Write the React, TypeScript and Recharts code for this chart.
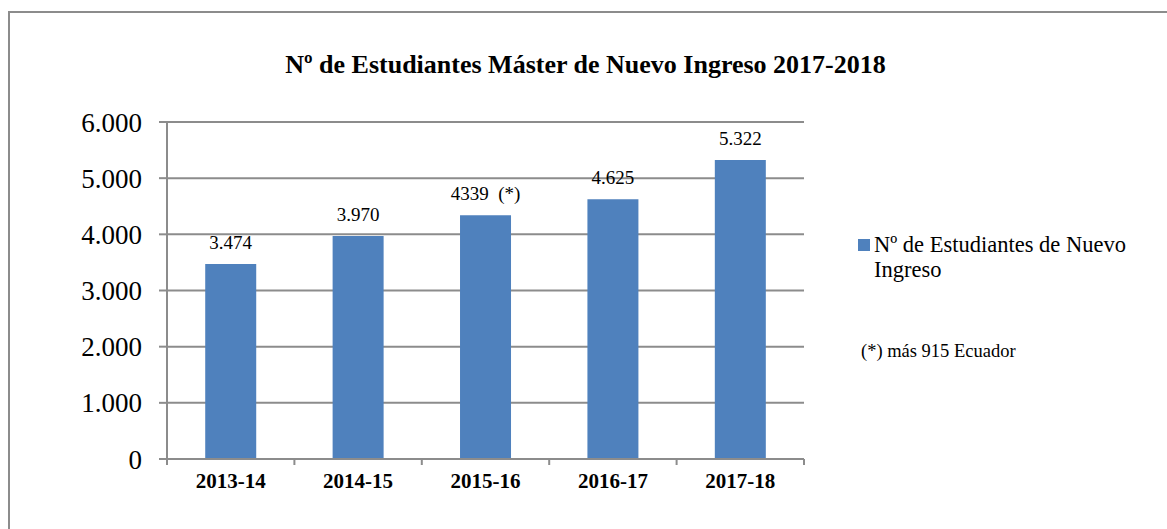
import { BarChart, Bar, XAxis, YAxis, CartesianGrid, LabelList } from 'recharts';

const categories = ['2013-14', '2014-15', '2015-16', '2016-17', '2017-18'];
const students = [3474, 3970, 4339, 4625, 5322];
const valueLabels = ['3.474', '3.970', '4339\u00a0\u00a0(*)', '4.625', '5.322'];
const yTicks = [0, 1000, 2000, 3000, 4000, 5000, 6000];

const title = 'Nº de Estudiantes Máster de Nuevo Ingreso 2017-2018';
const seriesName = 'Nº de Estudiantes de Nuevo Ingreso';
const footnote = '(*) más 915 Ecuador';

const chartData = categories.map((c, i) => ({
  name: c,
  value: students[i],
  label: valueLabels[i],
}));

const FONT = '"Liberation Serif", "Times New Roman", serif';
const GRID = '#8c8c8c';
const BLUE = '#4f81bd';

const CHART_W = 1157;
const CHART_H = 516;
const PLOT_LEFT = 157;
const PLOT_RIGHT = 794;
const STEP = (PLOT_RIGHT - PLOT_LEFT) / categories.length;

function formatThousands(v: number): string {
  return v.toLocaleString('de-DE');
}

function CategoryTick(props: any) {
  const { x, y, payload, index } = props;
  const left = x - STEP / 2;
  return (
    <g>
      <line x1={left} y1={y} x2={left} y2={y + 6} stroke={GRID} strokeWidth={2} />
      {index === categories.length - 1 && (
        <line x1={x + STEP / 2} y1={y} x2={x + STEP / 2} y2={y + 6} stroke={GRID} strokeWidth={2} />
      )}
      <text x={x} y={y + 29} textAnchor="middle" fontFamily={FONT} fontSize={21} fontWeight="bold" fill="#000">
        {payload.value}
      </text>
    </g>
  );
}

function LegendBox() {
  return (
    <div style={{ position: 'absolute', left: 848, top: 219, fontFamily: FONT, color: '#000' }}>
      <div style={{ position: 'relative', paddingLeft: 16, width: 290, fontSize: 22.5, lineHeight: '25px' }}>
        <span style={{ position: 'absolute', left: 0, top: 7, width: 12, height: 12, background: BLUE }} />
        {seriesName}
      </div>
      <div style={{ marginTop: 59, marginLeft: 3, fontSize: 18.5 }}>{footnote}</div>
    </div>
  );
}

export default function App() {
  return (
    <div
      style={{
        position: 'absolute',
        left: 8,
        top: 11,
        width: 1159,
        height: 518,
        borderTop: `2px solid ${GRID}`,
        borderLeft: `2px solid ${GRID}`,
        background: '#fff',
      }}
    >
      <div
        style={{
          position: 'absolute',
          top: 37,
          left: 0,
          width: 1151,
          textAlign: 'center',
          fontFamily: FONT,
          fontWeight: 'bold',
          fontSize: 26,
          color: '#000',
        }}
      >
        {title}
      </div>
      <BarChart
        width={CHART_W}
        height={CHART_H}
        data={chartData}
        margin={{ top: 109, right: CHART_W - PLOT_RIGHT, bottom: 40, left: PLOT_LEFT - 90 }}
        barCategoryGap="30%"
      >
        <CartesianGrid vertical={false} stroke={GRID} strokeWidth={2} />
        <XAxis
          dataKey="name"
          stroke={GRID}
          strokeWidth={2}
          tickLine={false}
          tickSize={0}
          tickMargin={0}
          height={30}
          interval={0}
          tick={<CategoryTick />}
        />
        <YAxis
          width={90}
          domain={[0, 6000]}
          ticks={yTicks}
          interval={0}
          stroke={GRID}
          strokeWidth={2}
          tickSize={8}
          tickMargin={17}
          tickFormatter={formatThousands}
          tick={{ fill: '#000', fontSize: 27, fontFamily: FONT }}
        />
        <Bar dataKey="value" name={seriesName} fill={BLUE} isAnimationActive={false}>
          <LabelList
            dataKey="label"
            position="top"
            offset={15}
            fill="#000"
            fontSize={19}
            fontFamily={FONT}
          />
        </Bar>
      </BarChart>
      <LegendBox />
    </div>
  );
}
